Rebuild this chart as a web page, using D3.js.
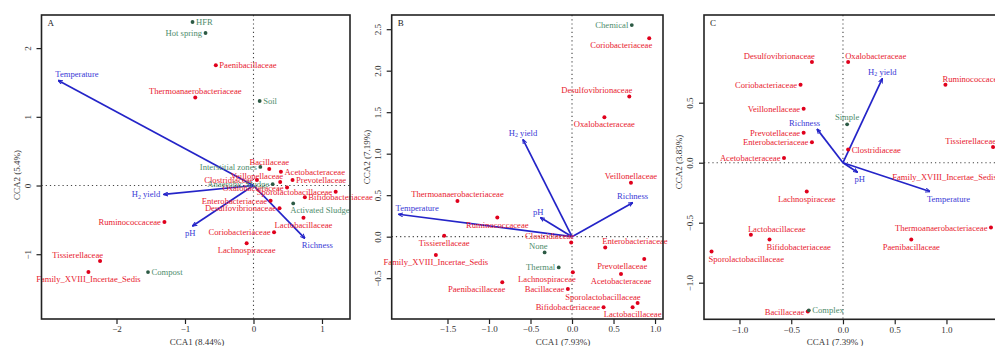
<!DOCTYPE html>
<html lang="en">
<head>
<meta charset="utf-8">
<title>CCA</title>
<script src="https://cdn.jsdelivr.net/npm/d3@7"></script>
<style>
  body { margin: 0; background: #fff; }
  text { font-family: "Liberation Serif", "Times New Roman", serif; }
</style>
</head>
<body>
<svg width="995" height="346" id="mainsvg"></svg>
<script>
  const svg = d3.select('#mainsvg');

  // ---- panel A ----
  const famA = [
    { name: 'Paenibacillaceae', x: -0.55, y: 1.75 },
    { name: 'Thermoanaerobacteriaceae', x: -0.85, y: 1.28 },
    { name: 'Bacillaceae', x: 0.23, y: 0.24 },
    { name: 'Veillonellaceae', x: 0.39, y: 0.05 },
    { name: 'Acetobacteraceae', x: 0.40, y: 0.20 },
    { name: 'Clostridiaceae', x: 0.05, y: 0.08 },
    { name: 'Prevotellaceae', x: 0.57, y: 0.08 },
    { name: 'Oxalobacteraceae', x: 0.49, y: -0.03 },
    { name: 'Sporolactobacillaceae', x: 1.20, y: -0.09 },
    { name: 'Enterobacteriaceae', x: 0.25, y: -0.22 },
    { name: 'Bifidobacteriaceae', x: 0.75, y: -0.17 },
    { name: 'Desulfovibrionaceae', x: 0.38, y: -0.33 },
    { name: 'Lactobacillaceae', x: 0.73, y: -0.47 },
    { name: 'Coriobacteriaceae', x: 0.30, y: -0.68 },
    { name: 'Lachnospiraceae', x: -0.10, y: -0.84 },
    { name: 'Ruminococcaceae', x: -1.30, y: -0.53 },
    { name: 'Tissierellaceae', x: -2.24, y: -1.10 },
    { name: 'Family_XVIII_Incertae_Sedis', x: -2.41, y: -1.26 }
  ];
  const siteA = [
    { name: 'HFR', x: -0.89, y: 2.38 },
    { name: 'Hot spring', x: -0.70, y: 2.22 },
    { name: 'Soil', x: 0.09, y: 1.23 },
    { name: 'Interstitial zones', x: 0.10, y: 0.27 },
    { name: 'Anaerobic Sludge', x: 0.28, y: 0.02 },
    { name: 'Activated Sludge', x: 0.58, y: -0.26 },
    { name: 'Compost', x: -1.54, y: -1.26 }
  ];
  const envA = [
    { name: 'Temperature', x: -2.85, y: 1.53 },
    { name: 'H2 yield', x: -1.31, y: -0.13 },
    { name: 'pH', x: -0.89, y: -0.59 },
    { name: 'Richness', x: 0.75, y: -0.77 }
  ];

  // ---- panel B ----
  const famB = [
    { name: 'Coriobacteriaceae', x: 0.93, y: 2.39 },
    { name: 'Desulfovibrionaceae', x: 0.69, y: 1.69 },
    { name: 'Oxalobacteraceae', x: 0.39, y: 1.44 },
    { name: 'Veillonellaceae', x: 0.71, y: 0.65 },
    { name: 'Thermoanaerobacteriaceae', x: -1.38, y: 0.43 },
    { name: 'Ruminococcaceae', x: -0.90, y: 0.23 },
    { name: 'Tissierellaceae', x: -1.54, y: 0.01 },
    { name: 'Family_XVIII_Incertae_Sedis', x: -1.64, y: -0.22 },
    { name: 'Paenibacillaceae', x: -0.84, y: -0.55 },
    { name: 'Clostridiaceae', x: -0.01, y: -0.07 },
    { name: 'Enterobacteriaceae', x: 0.40, y: -0.13 },
    { name: 'Lachnospiraceae', x: 0.01, y: -0.43 },
    { name: 'Prevotellaceae', x: 0.87, y: -0.27 },
    { name: 'Acetobacteraceae', x: 0.59, y: -0.45 },
    { name: 'Bacillaceae', x: -0.05, y: -0.63 },
    { name: 'Sporolactobacillaceae', x: 0.79, y: -0.80 },
    { name: 'Bifidobacteriaceae', x: 0.38, y: -0.85 },
    { name: 'Lactobacillaceae', x: 0.73, y: -0.85 }
  ];
  const siteB = [
    { name: 'Chemical', x: 0.72, y: 2.55 },
    { name: 'None', x: -0.33, y: -0.19 },
    { name: 'Thermal', x: -0.16, y: -0.37 }
  ];
  const envB = [
    { name: 'H2 yield', x: -0.59, y: 1.17 },
    { name: 'Temperature', x: -2.09, y: 0.27 },
    { name: 'pH', x: -0.38, y: 0.23 },
    { name: 'Richness', x: 0.73, y: 0.41 }
  ];

  // ---- panel C ----
  const famC = [
    { name: 'Desulfovibrionaceae', x: -0.30, y: 0.84 },
    { name: 'Oxalobacteraceae', x: 0.05, y: 0.84 },
    { name: 'Ruminococcaceae', x: 0.99, y: 0.65 },
    { name: 'Coriobacteriaceae', x: -0.41, y: 0.65 },
    { name: 'Veillonellaceae', x: -0.38, y: 0.45 },
    { name: 'Prevotellaceae', x: -0.38, y: 0.25 },
    { name: 'Enterobacteriaceae', x: -0.30, y: 0.17 },
    { name: 'Acetobacteraceae', x: -0.57, y: 0.04 },
    { name: 'Clostridiaceae', x: 0.05, y: 0.11 },
    { name: 'Tissierellaceae', x: 1.45, y: 0.13 },
    { name: 'Family_XVIII_Incertae_Sedis', x: 1.52, y: -0.12 },
    { name: 'Thermoanaerobacteriaceae', x: 1.43, y: -0.54 },
    { name: 'Paenibacillaceae', x: 0.66, y: -0.64 },
    { name: 'Lachnospiraceae', x: -0.35, y: -0.24 },
    { name: 'Lactobacillaceae', x: -0.89, y: -0.60 },
    { name: 'Bifidobacteriaceae', x: -0.71, y: -0.64 },
    { name: 'Sporolactobacillaceae', x: -1.27, y: -0.74 },
    { name: 'Bacillaceae', x: -0.34, y: -1.24 }
  ];
  const siteC = [
    { name: 'Simple', x: 0.04, y: 0.32 },
    { name: 'Complex', x: -0.33, y: -1.23 }
  ];
  const envC = [
    { name: 'H2 yield', x: 0.38, y: 0.70 },
    { name: 'Richness', x: -0.25, y: 0.28 },
    { name: 'pH', x: 0.14, y: -0.08 },
    { name: 'Temperature', x: 0.84, y: -0.24 }
  ];

  // which side of the point each label sits on
  const sideA = {
    'Paenibacillaceae': 'r', 'Thermoanaerobacteriaceae': 't', 'Bacillaceae': 't', 'Veillonellaceae': 'tl',
    'Acetobacteraceae': 'r', 'Clostridiaceae': 'l', 'Prevotellaceae': 'r', 'Oxalobacteraceae': 'l',
    'Sporolactobacillaceae': 'l', 'Enterobacteriaceae': 'l', 'Bifidobacteriaceae': 'r', 'Desulfovibrionaceae': 'l',
    'Lactobacillaceae': 'b', 'Coriobacteriaceae': 'l', 'Lachnospiraceae': 'b', 'Ruminococcaceae': 'l',
    'Tissierellaceae': 'tl', 'Family_XVIII_Incertae_Sedis': 'b',
    'HFR': 'r', 'Hot spring': 'l', 'Soil': 'r', 'Interstitial zones': 'l', 'Anaerobic Sludge': 'l',
    'Activated Sludge': 'br', 'Compost': 'r',
    'Temperature': 'tr', 'H2 yield': 'l', 'pH': 'bl', 'Richness': 'br'
  };
  const sideB = {
    'Coriobacteriaceae': 'bl', 'Desulfovibrionaceae': 'tl', 'Oxalobacteraceae': 'b', 'Veillonellaceae': 't',
    'Thermoanaerobacteriaceae': 't', 'Ruminococcaceae': 'b', 'Tissierellaceae': 'b', 'Family_XVIII_Incertae_Sedis': 'b',
    'Paenibacillaceae': 'bl', 'Clostridiaceae': 'tl', 'Enterobacteriaceae': 'tr', 'Lachnospiraceae': 'bl',
    'Prevotellaceae': 'bl', 'Acetobacteraceae': 'b', 'Bacillaceae': 'l', 'Sporolactobacillaceae': 'tl',
    'Bifidobacteriaceae': 'l', 'Lactobacillaceae': 'b',
    'Chemical': 'l', 'None': 'tl', 'Thermal': 'l',
    'H2 yield': 't', 'Temperature': 'tr', 'pH': 'tl', 'Richness': 't'
  };
  const sideC = {
    'Desulfovibrionaceae': 'tl', 'Oxalobacteraceae': 'tr', 'Ruminococcaceae': 'tr', 'Coriobacteriaceae': 'l',
    'Veillonellaceae': 'l', 'Prevotellaceae': 'l', 'Enterobacteriaceae': 'l', 'Acetobacteraceae': 'l',
    'Clostridiaceae': 'r', 'Tissierellaceae': 'tl', 'Family_XVIII_Incertae_Sedis': 'l', 'Thermoanaerobacteriaceae': 'l',
    'Paenibacillaceae': 'b', 'Lachnospiraceae': 'b', 'Lactobacillaceae': 'tr', 'Bifidobacteriaceae': 'br',
    'Sporolactobacillaceae': 'br', 'Bacillaceae': 'l',
    'Simple': 't', 'Complex': 'r',
    'H2 yield': 't', 'Richness': 'tl', 'pH': 'br', 'Temperature': 'br'
  };

  const panels = [
    { letter: 'A', box: [41.5, 350, 15, 319], xDomain: [-3.095, 1.409], yDomain: [-1.943, 2.482],
      xTicks: [-2, -1, 0, 1], yTicks: [-1, 0, 1, 2], fmt: d3.format('d'),
      xLabel: 'CCA1 (8.44%)', yLabel: 'CCA2 (5.4%)', xLabelX: 197, yLabelY: 175,
      fam: famA, site: siteA, env: envA, side: sideA },
    { letter: 'B', box: [391.7, 663, 15, 319], xDomain: [-2.172, 1.096], yDomain: [-0.992, 2.671],
      xTicks: [-1.5, -1, -0.5, 0, 0.5, 1], yTicks: [-0.5, 0, 0.5, 1, 1.5, 2, 2.5], fmt: d3.format('.1f'),
      xLabel: 'CCA1 (7.93%)', yLabel: 'CCA2 (7.19%)', xLabelX: 563, yLabelY: 157,
      fam: famB, site: siteB, env: envB, side: sideB },
    { letter: 'C', box: [704, 1010, 15, 319.3], xDomain: [-1.343, 1.614], yDomain: [-1.305, 1.231],
      xTicks: [-1, -0.5, 0, 0.5, 1], yTicks: [-1, -0.5, 0, 0.5], fmt: d3.format('.1f'),
      xLabel: 'CCA1 (7.39% )', yLabel: 'CCA2 (3.83%)', xLabelX: 835, yLabelY: 162,
      fam: famC, site: siteC, env: envC, side: sideC }
  ];

  const red = '#e8202e', redDot = '#e0001c';
  const green = '#4e8c6c', greenDot = '#2c5a44';
  const blue = '#2424c8', blueText = '#3a3ad6';
  const fs = 8.6;

  svg.append('defs').append('marker')
    .attr('id', 'arr')
    .attr('viewBox', '0 0 10 10')
    .attr('refX', 9).attr('refY', 5)
    .attr('markerUnits', 'userSpaceOnUse')
    .attr('markerWidth', 5).attr('markerHeight', 5)
    .attr('orient', 'auto')
    .append('path')
    .attr('d', 'M0,1L10,5L0,9')
    .attr('fill', 'none')
    .attr('stroke', blue)
    .attr('stroke-width', 2);

  // put a label next to point (px, py)
  function addLabel(g, name, px, py, side, color) {
    let x = px, y = py, anchor = 'middle', base = 'central';
    const gap = 3.5;
    if (side === 'l') { x = px - gap; anchor = 'end'; }
    else if (side === 'r') { x = px + gap; anchor = 'start'; }
    else if (side === 't') { y = py - 7; }
    else if (side === 'b') { y = py + 7; }
    else if (side === 'tl') { x = px + 3; y = py - 6; anchor = 'end'; }
    else if (side === 'tr') { x = px - 3; y = py - 6; anchor = 'start'; }
    else if (side === 'bl') { x = px + 3; y = py + 7; anchor = 'end'; }
    else if (side === 'br') { x = px - 3; y = py + 7; anchor = 'start'; }
    const t = g.append('text')
      .attr('x', x).attr('y', y)
      .attr('text-anchor', anchor)
      .attr('dominant-baseline', base)
      .attr('font-size', fs)
      .attr('fill', color);
    if (name === 'H2 yield') {
      t.append('tspan').text('H');
      t.append('tspan').text('2').attr('font-size', fs * 0.7).attr('dy', 2.5);
      t.append('tspan').text(' yield').attr('dy', -2.5);
    } else {
      t.text(name);
    }
  }

  panels.forEach(p => {
    const [x0, x1, y0, y1] = p.box;
    const xScale = d3.scaleLinear().domain(p.xDomain).range([x0, x1]);
    const yScale = d3.scaleLinear().domain(p.yDomain).range([y1, y0]);
    const g = svg.append('g');

    // dotted zero lines
    g.append('line')
      .attr('x1', x0).attr('x2', x1)
      .attr('y1', yScale(0)).attr('y2', yScale(0))
      .attr('stroke', '#444').attr('stroke-width', 1.1).attr('stroke-dasharray', '1.2,3');
    g.append('line')
      .attr('x1', xScale(0)).attr('x2', xScale(0))
      .attr('y1', y0).attr('y2', y1)
      .attr('stroke', '#444').attr('stroke-width', 1.1).attr('stroke-dasharray', '1.2,3');

    // axes
    const xAxis = d3.axisBottom(xScale).tickValues(p.xTicks).tickFormat(p.fmt)
      .tickSize(5).tickPadding(2);
    const xg = g.append('g').attr('transform', `translate(0,${y1})`).call(xAxis);
    xg.select('.domain').remove();
    xg.selectAll('.tick line').attr('stroke', '#222').attr('stroke-width', 1.2);
    xg.selectAll('.tick text').attr('font-size', 9).attr('fill', '#333')
      .attr('font-family', '"Liberation Serif", serif');

    const yAxis = d3.axisLeft(yScale).tickValues(p.yTicks).tickFormat(p.fmt)
      .tickSize(5).tickPadding(2);
    const yg = g.append('g').attr('transform', `translate(${x0},0)`).call(yAxis);
    yg.select('.domain').remove();
    yg.selectAll('.tick line').attr('stroke', '#222').attr('stroke-width', 1.2);
    yg.selectAll('.tick text')
      .attr('font-size', 9).attr('fill', '#333')
      .attr('font-family', '"Liberation Serif", serif')
      .attr('x', null).attr('dy', null)
      .attr('text-anchor', 'middle')
      .attr('transform', 'translate(-11,0) rotate(-90)');

    // axis titles
    g.append('text')
      .attr('x', p.xLabelX).attr('y', 345)
      .attr('text-anchor', 'middle')
      .attr('font-size', 9).attr('fill', '#333')
      .text(p.xLabel);
    g.append('text')
      .attr('transform', `translate(${x0 - 22},${p.yLabelY}) rotate(-90)`)
      .attr('text-anchor', 'middle')
      .attr('font-size', 9).attr('fill', '#333')
      .text(p.yLabel);

    // environment vectors
    g.selectAll('.vec').data(p.env).enter().append('line')
      .attr('class', 'vec')
      .attr('x1', xScale(0)).attr('y1', yScale(0))
      .attr('x2', d => xScale(d.x)).attr('y2', d => yScale(d.y))
      .attr('stroke', blue).attr('stroke-width', 1.7)
      .attr('marker-end', 'url(#arr)');

    // points
    g.selectAll('.fam').data(p.fam).enter().append('circle')
      .attr('class', 'fam')
      .attr('cx', d => xScale(d.x)).attr('cy', d => yScale(d.y))
      .attr('r', 2).attr('fill', redDot);
    g.selectAll('.site').data(p.site).enter().append('circle')
      .attr('class', 'site')
      .attr('cx', d => xScale(d.x)).attr('cy', d => yScale(d.y))
      .attr('r', 1.9).attr('fill', greenDot);

    // labels
    p.fam.forEach(d => addLabel(g, d.name, xScale(d.x), yScale(d.y), p.side[d.name], red));
    p.site.forEach(d => addLabel(g, d.name, xScale(d.x), yScale(d.y), p.side[d.name], green));
    p.env.forEach(d => addLabel(g, d.name, xScale(d.x), yScale(d.y), p.side[d.name], blueText));

    // frame
    g.append('rect')
      .attr('x', x0).attr('y', y0)
      .attr('width', x1 - x0).attr('height', y1 - y0)
      .attr('fill', 'none').attr('stroke', '#222').attr('stroke-width', 1.6);

    g.append('text')
      .attr('x', x0 + 6).attr('y', y0 + 11)
      .attr('font-size', 9).attr('fill', '#222')
      .text(p.letter);
  });
</script>
</body>
</html>
